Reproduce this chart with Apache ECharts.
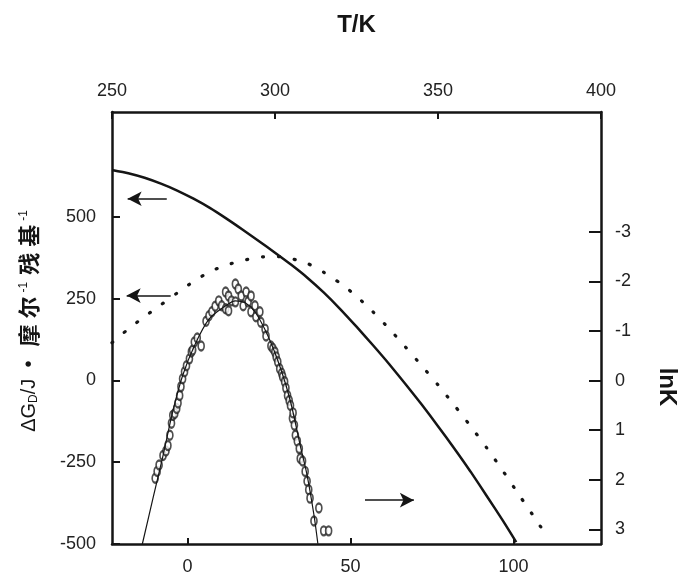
<!DOCTYPE html>
<html>
<head>
<meta charset="utf-8">
<script src="https://cdn.jsdelivr.net/npm/echarts@6/dist/echarts.min.js"></script>
<style>
  html, body { margin: 0; padding: 0; background: #fff; }
  #chart { width: 687px; height: 576px; }
</style>
</head>
<body>
<div id="chart"></div>
<script>
// solid curve, dG (J/mol residue) against T (K)
const solidT = [250, 255, 260, 265, 270, 275, 280, 285, 290, 295, 300, 305, 310, 315, 320, 325, 330, 335, 340, 345, 350, 355, 360, 365, 370, 374];
const solidG = [643, 633, 619, 601, 580, 555, 527, 495, 461, 426, 390, 353, 313, 268, 218, 164, 108, 50, -11, -74, -140, -208, -279, -354, -430, -494];

// dotted curve
const dotT = [250, 255, 260, 265, 270, 275, 280, 285, 290, 295, 300, 305, 310, 315, 320, 325, 330, 335, 340, 345, 350, 355, 360, 365, 370, 375, 380, 384];
const dotG = [115, 157, 195, 231, 267, 302, 332, 352, 366, 376, 379, 372, 357, 330, 297, 257, 210, 158, 102, 45, -14, -76, -140, -207, -278, -352, -425, -485];

// fitted lnK line against t (°C)
const fitC = [-13.9, -10.5, -7.5, -4.5, -1.5, 2.1, 6.6, 11.7, 14.7, 17.7, 20.7, 24.7, 28.6, 31.6, 34.6, 36.7, 38.8, 40.0];
const fitLnK = [3.31, 2.35, 1.51, 0.62, -0.10, -0.70, -1.24, -1.51, -1.61, -1.57, -1.39, -0.90, -0.24, 0.42, 1.31, 1.91, 2.71, 3.29];

// measured points (open circles)
const ptC = [-9.9, -9.3, -8.7, -7.5, -6.6, -6.0, -5.4, -4.9, -4.5, -3.9, -3.3, -2.9, -2.4, -2.0, -1.5, -0.9, -0.3, 0.6, 1.2, 1.6, 2.1, 3.0, 4.2, 5.7, 6.6, 7.5, 8.5, 9.6, 10.5, 11.7, 11.7, 12.6, 12.6, 13.5, 14.7, 14.7, 15.6, 16.5, 17.1, 18.0, 18.6, 19.5, 19.5, 20.7, 21.0, 22.2, 22.5, 23.8, 24.1, 25.6, 26.2, 26.8, 27.2, 27.7, 28.3, 28.9, 29.2, 29.8, 30.2, 30.7, 31.2, 31.6, 32.2, 32.4, 32.8, 33.1, 33.7, 34.3, 34.6, 35.3, 36.1, 36.7, 37.2, 37.6, 38.8, 40.3, 41.8, 43.3];
const ptLnK = [1.97, 1.83, 1.70, 1.51, 1.42, 1.31, 1.10, 0.86, 0.70, 0.66, 0.56, 0.45, 0.30, 0.12, -0.04, -0.18, -0.30, -0.44, -0.58, -0.62, -0.78, -0.86, -0.70, -1.20, -1.31, -1.39, -1.50, -1.61, -1.51, -1.79, -1.45, -1.41, -1.71, -1.61, -1.95, -1.59, -1.85, -1.71, -1.51, -1.79, -1.59, -1.71, -1.39, -1.51, -1.29, -1.39, -1.18, -1.04, -0.90, -0.70, -0.65, -0.58, -0.48, -0.38, -0.24, -0.15, -0.08, 0.02, 0.15, 0.30, 0.40, 0.50, 0.76, 0.65, 0.90, 1.10, 1.22, 1.37, 1.57, 1.62, 1.83, 2.03, 2.20, 2.37, 2.83, 2.57, 3.03, 3.03];

// arrows: [tail T, tip T, dG]
const arrows = [[266.8, 254.8, 555], [268, 254.5, 259], [327.6, 342.6, -366]];

const topTicks = [250, 300, 350, 400];
const bottomTicks = [0, 50, 100];
const leftTicks = [-500, -250, 0, 250, 500];
const rightTicks = [-3, -2, -1, 0, 1, 2, 3];

const ink = '#151515';
const latin = 'Liberation Sans';

function zip(a, b) {
  return a.map((v, i) => [v, b[i]]);
}

let axisLine = { show: true, onZero: false, lineStyle: { color: ink, width: 2.5 } };
let labelStyle = { color: '#222', fontSize: 18, fontFamily: latin };

let myChart = echarts.init(document.getElementById('chart'));
myChart.setOption({
  animation: false,
  backgroundColor: '#fff',
  grid: { left: 112, right: 76, top: 112, bottom: 30 },
  xAxis: [
    {
      type: 'value',
      position: 'top',
      min: topTicks[0],
      max: topTicks[topTicks.length - 1],
      interval: 50,
      axisLine: axisLine,
      axisTick: { inside: true, length: 7, lineStyle: { color: ink, width: 2 } },
      axisLabel: Object.assign({ margin: 12, showMinLabel: true, showMaxLabel: true }, labelStyle),
      splitLine: { show: false },
      name: 'T/K',
      nameLocation: 'middle',
      nameGap: 75,
      nameTextStyle: { fontSize: 24, fontWeight: 'bold', color: ink, fontFamily: latin }
    },
    {
      type: 'value',
      position: 'bottom',
      min: -23.15,
      max: 126.85,
      axisLine: axisLine,
      axisTick: { inside: true, length: 6, customValues: bottomTicks, lineStyle: { color: ink, width: 2 } },
      axisLabel: Object.assign({ margin: 14, customValues: bottomTicks }, labelStyle),
      splitLine: { show: false }
    }
  ],
  yAxis: [
    {
      type: 'value',
      position: 'left',
      min: -500,
      max: 820,
      axisLine: axisLine,
      axisTick: { inside: true, length: 8, customValues: leftTicks, lineStyle: { color: ink, width: 2 } },
      axisLabel: Object.assign({ margin: 16, customValues: leftTicks }, labelStyle),
      splitLine: { show: false },
      name: '{t|ΔG}{s|D}{t|/J  •  }{c|摩}{c|尔}{p|-1}{c|残}{c|基}{p|-1}',
      nameLocation: 'middle',
      nameGap: 72,
      nameTextStyle: {
        color: ink,
        padding: [0, 0, 0, 18],
        rich: {
          t: { fontSize: 20, fontFamily: latin, color: ink },
          s: { fontSize: 12, fontFamily: latin, color: ink, verticalAlign: 'bottom' },
          c: { fontSize: 22, fontFamily: 'Noto Sans CJK SC', fontWeight: 'bold', color: ink, padding: [0, 3, 0, 3] },
          p: { fontSize: 12, fontFamily: latin, color: ink, verticalAlign: 'top', padding: [0, 4, 0, 1] }
        }
      }
    },
    {
      type: 'value',
      position: 'right',
      inverse: true,
      min: -5.42,
      max: 3.295,
      axisLine: axisLine,
      axisTick: { inside: true, length: 12, customValues: rightTicks, lineStyle: { color: ink, width: 2 } },
      axisLabel: Object.assign({ margin: 14, customValues: rightTicks }, labelStyle),
      splitLine: { show: false },
      name: 'lnK',
      nameLocation: 'middle',
      nameRotate: -90,
      nameGap: 54,
      nameTextStyle: { fontSize: 24, fontWeight: 'bold', color: ink, fontFamily: latin, padding: [0, 0, 0, 118] }
    }
  ],
  series: [
    {
      type: 'line',
      xAxisIndex: 0,
      yAxisIndex: 0,
      data: zip(solidT, solidG),
      showSymbol: false,
      smooth: 0.2,
      lineStyle: { color: ink, width: 2.5 },
      silent: true,
      markLine: {
        silent: true,
        symbol: ['none', 'arrow'],
        symbolSize: [11, 14],
        label: { show: false },
        lineStyle: { color: ink, width: 1.5, type: 'solid' },
        data: arrows.map(a => [{ coord: [a[0], a[2]] }, { coord: [a[1], a[2]] }])
      }
    },
    {
      type: 'line',
      xAxisIndex: 0,
      yAxisIndex: 0,
      data: zip(dotT, dotG),
      showSymbol: false,
      smooth: 0.2,
      lineStyle: { color: ink, width: 3.2, type: [1, 15], cap: 'round' },
      silent: true
    },
    {
      type: 'line',
      xAxisIndex: 1,
      yAxisIndex: 1,
      data: zip(fitC, fitLnK),
      showSymbol: false,
      smooth: 0.3,
      lineStyle: { color: ink, width: 1.2 },
      silent: true
    },
    {
      type: 'scatter',
      xAxisIndex: 1,
      yAxisIndex: 1,
      data: zip(ptC, ptLnK),
      symbol: 'emptyCircle',
      symbolSize: [6, 9],
      itemStyle: { color: '#222', borderColor: '#222', borderWidth: 1.3 },
      silent: true
    }
  ]
});
</script>
</body>
</html>
